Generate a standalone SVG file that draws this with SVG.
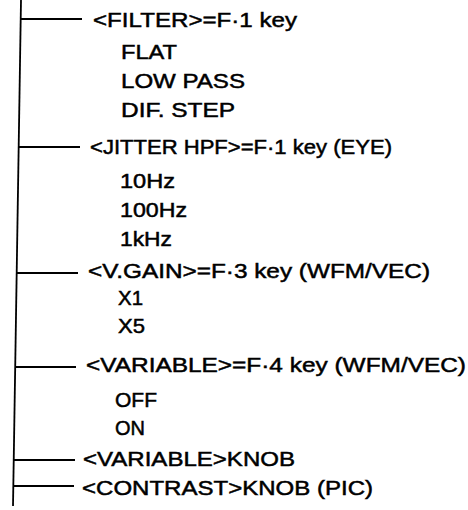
<svg xmlns="http://www.w3.org/2000/svg" width="468" height="510" viewBox="0 0 468 510">
<style>
text{font-family:"Liberation Sans",Arial,sans-serif;font-size:21px;fill:#000;stroke:#000;stroke-width:0.5px}
.c{stroke:#000;stroke-width:1.8;fill:none}
</style>
<rect width="468" height="510" fill="#fff"/>
<g id="connectors">
<line class="c" x1="21" y1="0" x2="13" y2="506"/>
<line class="c" x1="20.7" y1="19" x2="82" y2="19"/>
<line class="c" x1="18.7" y1="147" x2="80" y2="147"/>
<line class="c" x1="16.7" y1="273" x2="78" y2="273"/>
<line class="c" x1="15.2" y1="367" x2="76" y2="367"/>
<line class="c" x1="13.7" y1="460" x2="75" y2="460"/>
<line class="c" x1="13.3" y1="486" x2="74" y2="486"/>
</g>
<g id="filter">
<text x="93" y="27" textLength="204" lengthAdjust="spacingAndGlyphs">&lt;FILTER&gt;=F·1 key</text>
<text x="121" y="59" textLength="56" lengthAdjust="spacingAndGlyphs">FLAT</text>
<text x="121" y="88" textLength="124" lengthAdjust="spacingAndGlyphs">LOW PASS</text>
<text x="121" y="117" textLength="114" lengthAdjust="spacingAndGlyphs">DIF. STEP</text>
</g>
<g id="jitter">
<text x="90" y="154" textLength="302" lengthAdjust="spacingAndGlyphs">&lt;JITTER HPF&gt;=F·1 key (EYE)</text>
<text x="120" y="188" textLength="55" lengthAdjust="spacingAndGlyphs">10Hz</text>
<text x="120" y="217" textLength="67" lengthAdjust="spacingAndGlyphs">100Hz</text>
<text x="120" y="246" textLength="52" lengthAdjust="spacingAndGlyphs">1kHz</text>
</g>
<g id="vgain">
<text x="88" y="278" textLength="342" lengthAdjust="spacingAndGlyphs">&lt;V.GAIN&gt;=F·3 key (WFM/VEC)</text>
<text x="118" y="305" textLength="25" lengthAdjust="spacingAndGlyphs">X1</text>
<text x="118" y="333" textLength="27" lengthAdjust="spacingAndGlyphs">X5</text>
</g>
<g id="variable">
<text x="86" y="372" textLength="380" lengthAdjust="spacingAndGlyphs">&lt;VARIABLE&gt;=F·4 key (WFM/VEC)</text>
<text x="115" y="407" textLength="42" lengthAdjust="spacingAndGlyphs">OFF</text>
<text x="115" y="435" textLength="30" lengthAdjust="spacingAndGlyphs">ON</text>
</g>
<g id="variable-knob">
<text x="83" y="466" textLength="212" lengthAdjust="spacingAndGlyphs">&lt;VARIABLE&gt;KNOB</text>
</g>
<g id="contrast-knob">
<text x="82" y="495" textLength="291" lengthAdjust="spacingAndGlyphs">&lt;CONTRAST&gt;KNOB (PIC)</text>
</g>
</svg>
